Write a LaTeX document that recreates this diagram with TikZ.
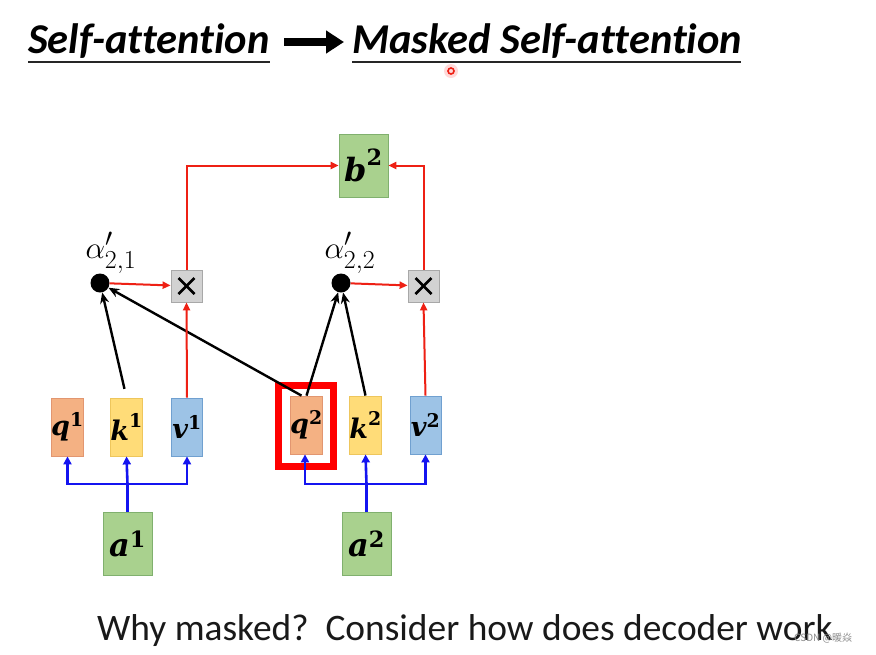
\documentclass[tikz,border=0pt]{standalone}
\usepackage{graphicx}
\usepackage{fontspec}
\usepackage{amsmath}
\newfontfamily\carlito{Carlito}[Ligatures=NoCommon]
\newfontfamily\dvs{DejaVu Serif}
\newfontfamily\cjk{Noto Sans CJK SC}
\usetikzlibrary{arrows.meta}
\newcommand{\vecsym}[2]{$\text{\dvs\bfseries\itshape #1}^{\text{\dvs\bfseries #2}}$}
\newcommand{\alphalab}[1]{\scalebox{1.25}{$\alpha'_{#1}$}}
\definecolor{qfill}{RGB}{244,177,131}
\definecolor{qdraw}{RGB}{226,150,112}
\definecolor{kfill}{RGB}{255,220,120}
\definecolor{kdraw}{RGB}{238,198,92}
\definecolor{vfill}{RGB}{157,195,230}
\definecolor{vdraw}{RGB}{112,160,208}
\definecolor{gfill}{RGB}{169,209,142}
\definecolor{gdraw}{RGB}{128,176,110}
\definecolor{xfill}{RGB}{210,210,210}
\definecolor{xdraw}{RGB}{168,168,168}
\definecolor{redl}{RGB}{238,32,20}
\definecolor{bluel}{RGB}{20,20,240}
\definecolor{txt}{RGB}{25,25,25}
\begin{document}
\begin{tikzpicture}[x=1pt,y=-1pt,
  vecbox/.style={draw, line width=0.8pt, minimum width=31pt, minimum height=58pt, inner sep=0pt,
                 font=\fontsize{27}{30}\selectfont},
  qbox/.style={vecbox, fill=qfill, draw=qdraw},
  kbox/.style={vecbox, fill=kfill, draw=kdraw},
  vbox/.style={vecbox, fill=vfill, draw=vdraw},
  gbox/.style={draw=gdraw, fill=gfill, line width=0.8pt, minimum width=49pt, minimum height=63pt, inner sep=0pt,
               font=\fontsize{32}{36}\selectfont},
  xbox/.style={draw=xdraw, fill=xfill, line width=0.8pt, minimum width=31pt, minimum height=32pt, inner sep=0pt},
  dot/.style={circle, fill=black, minimum size=19pt, inner sep=0pt},
  redarr/.style={draw=redl, line width=2pt, -{Triangle[length=8pt,width=7pt]}},
  bluearr/.style={draw=bluel, line width=2.6pt, -{Triangle[length=8pt,width=8pt]}},
  blueln/.style={draw=bluel, line width=2.6pt},
  blkarr/.style={draw=black, line width=2.4pt, -{Stealth[length=11pt,width=9pt]}},
  alab/.style={font=\fontsize{24.88}{28}\selectfont, inner sep=0pt},
  ttl/.style={font=\carlito\bfseries\itshape\fontsize{42.5}{50}\selectfont, inner sep=0pt, anchor=base west, text=black},
]
\useasboundingbox (0,0) rectangle (876,654);
\fill[white] (0,0) rectangle (876,654);

% title
\node[ttl] (t1) at (28,53) {Self-attention};
\node[ttl] (t2) at (352,53) {Masked Self-attention};
\draw[line width=1.4pt, black!85] (28,62) -- (270,62);
\draw[line width=1.4pt, black!85] (352,62) -- (741,62);
\draw[line width=8pt, -{Triangle[length=18pt,width=22pt]}] (284,42) -- (344,42);
% laser pointer dot
\fill[red!15] (451,71) circle (7);
\draw[redl, line width=1.6pt] (451,71) circle (3);

% vectors
\node[qbox] (q1) at (67.5,427) {\vecsym{q}{1}};
\node[kbox] (k1) at (126.5,427) {\vecsym{k}{1}};
\node[vbox] (v1) at (187,427) {\vecsym{v}{1}};
\node[qbox] (q2) at (306.5,425) {\vecsym{q}{2}};
\node[kbox] (k2) at (365.5,425) {\vecsym{k}{2}};
\node[vbox] (v2) at (425.5,425) {\vecsym{v}{2}};
\node[draw=red, line width=7pt, minimum width=55pt, minimum height=81pt, inner sep=0pt] (hl) at (306,426) {};

\node[gbox] (a1) at (127.5,543.5) {\vecsym{a}{1}};
\node[gbox] (a2) at (366.5,543.5) {\vecsym{a}{2}};
\node[gbox] (b2) at (363.5,165.5) {\vecsym{b}{2}};

% attention scores
\node[dot] (d1) at (100,283) {};
\node[dot] (d2) at (341,283) {};
\node[alab] (l1) at (111,253) {\alphalab{2,1}};
\node[alab] (l2) at (350,253) {\alphalab{2,2}};

% multiply boxes
\node[xbox] (x1) at (186.5,286) {};
\node[xbox] (x2) at (423.5,286) {};
\foreach \n in {x1,x2}{
  \draw[line width=2.8pt] ([shift={(-8,-8)}]\n.center) -- ([shift={(8,8)}]\n.center);
  \draw[line width=2.8pt] ([shift={(-8,8)}]\n.center) -- ([shift={(8,-8)}]\n.center);
}

% blue connectors
\coordinate (j1) at (127.5,484);
\coordinate (j2) at (366.5,484);
\draw[blueln] (a1.north) -- (j1);
\draw[bluearr] (j1) -- (k1.south);
\draw[bluearr] (j1) -| (q1.south);
\draw[bluearr] (j1) -| (v1.south);
\draw[blueln] (a2.north) -- (j2);
\draw[bluearr] (j2) -- (k2.south);
\draw[bluearr] (j2) -| ([xshift=-1.5pt]q2.south);
\draw[bluearr] (j2) -| (v2.south);

% black connectors
\draw[blkarr, shorten <=9pt] (k1.north) -- (d1);
\draw[blkarr] ([xshift=-5pt]q2.north) -- (d1);
\draw[blkarr] (q2.north) -- (d2);
\draw[blkarr] (k2.north) -- (d2);

% red connectors
\draw[redarr] (d1) -- (x1);
\draw[redarr] (d2) -- (x2);
\draw[redarr] (v1.north) -- (x1.south);
\draw[redarr] (v2.north) -- (x2.south);
\draw[redarr] (x1.north) |- (b2.west);
\draw[redarr] (x2.north) |- (b2.east);

% caption
\node[anchor=base west, inner sep=0pt, text=txt, font=\carlito\fontsize{37.4}{46}\selectfont] (cap) at (97,640) {Why masked?\ \ Consider how does decoder work};
\node[anchor=base west, inner sep=0pt, text=black!45, font=\cjk\fontsize{10}{12}\selectfont] (wm) at (794,641) {CSDN @暖焱};
\end{tikzpicture}
\end{document}
